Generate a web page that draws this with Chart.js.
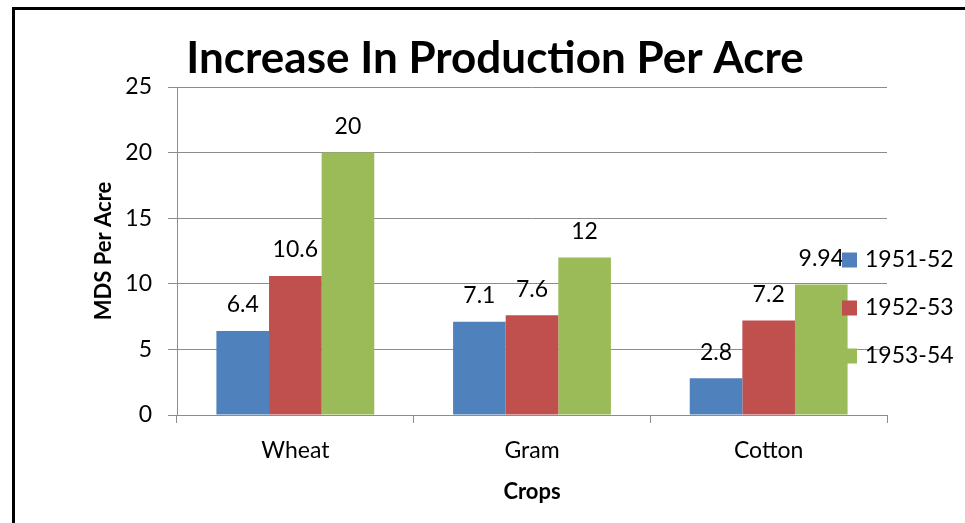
<!DOCTYPE html>
<html lang="en">
<head>
    <meta charset="UTF-8">
    <title>Increase In Production Per Acre</title>
    <script src="https://cdn.jsdelivr.net/npm/chart.js"></script>
    <style>
        html, body { margin: 0; padding: 0; background: #fff; }
        .frame {
            position: absolute;
            left: 12px;
            top: 7px;
            width: 960px;
            height: 520px;
            border-left: 3px solid #000;
            border-top: 3px solid #000;
        }
        .chart-wrapper {
            position: absolute;
            left: 0;
            top: 0;
            width: 965px;
            height: 523px;
        }
    </style>
</head>
<body>
    <div class="frame"></div>
    <div class="chart-wrapper">
        <canvas id="barChart"></canvas>
    </div>

    <script>
        // data
        const crops = ['Wheat', 'Gram', 'Cotton'];
        const seasons = ['1951-52', '1952-53', '1953-54'];
        const y1951 = [6.4, 7.1, 2.8];
        const y1952 = [10.6, 7.6, 7.2];
        const y1953 = [20, 12, 9.94];
        const yTicks = [0, 5, 10, 15, 20, 25];
        const chartTitle = 'Increase In Production Per Acre';

        const colors = ['#4F81BD', '#C0504D', '#9BBB59'];
        const fontFamily = 'Lato, "Open Sans", sans-serif';
        const gridGray = '#8c8c8c';

        // title drawn by hand so it can sit off-centre like the original
        const titleText = {
            id: 'titleText',
            afterDraw(chart) {
                const ctx = chart.ctx;
                ctx.save();
                ctx.font = 'bold 44px ' + fontFamily;
                ctx.fillStyle = '#000';
                ctx.textAlign = 'center';
                ctx.textBaseline = 'middle';
                ctx.fillText(chartTitle, 495, 59);
                ctx.restore();
            }
        };

        // value labels above each bar
        const valueLabels = {
            id: 'valueLabels',
            afterDatasetsDraw(chart) {
                const ctx = chart.ctx;
                ctx.save();
                ctx.font = '23px ' + fontFamily;
                ctx.fillStyle = '#000';
                ctx.textAlign = 'center';
                ctx.textBaseline = 'middle';
                chart.data.datasets.forEach((ds, i) => {
                    chart.getDatasetMeta(i).data.forEach((bar, j) => {
                        ctx.fillText(String(ds.data[j]), bar.x, bar.y - 26);
                    });
                });
                ctx.restore();
            }
        };

        // legend sitting over the right edge of the plot
        const overlayLegend = {
            id: 'overlayLegend',
            afterDraw(chart) {
                const ctx = chart.ctx;
                ctx.save();
                ctx.font = '23px ' + fontFamily;
                ctx.textBaseline = 'middle';
                ctx.textAlign = 'left';
                chart.data.datasets.forEach((ds, i) => {
                    const cy = 260 + i * 48;
                    ctx.fillStyle = ds.backgroundColor;
                    ctx.fillRect(842, cy - 7.5, 15, 15);
                    ctx.fillStyle = '#000';
                    ctx.fillText(ds.label, 865, cy);
                });
                ctx.restore();
            }
        };

        new Chart(document.getElementById('barChart'), {
            type: 'bar',
            data: {
                labels: crops,
                datasets: [
                    { label: seasons[0], data: y1951, backgroundColor: colors[0] },
                    { label: seasons[1], data: y1952, backgroundColor: colors[1] },
                    { label: seasons[2], data: y1953, backgroundColor: colors[2] }
                ]
            },
            options: {
                responsive: true,
                maintainAspectRatio: false,
                animation: false,
                categoryPercentage: 0.667,
                barPercentage: 1.0,
                layout: { padding: { left: 0, right: 78, top: 87, bottom: 0 } },
                plugins: {
                    legend: { display: false },
                    tooltip: { enabled: false },
                    title: { display: false }
                },
                scales: {
                    x: {
                        afterFit(scale) { scale.height = 108; },
                        grid: {
                            drawOnChartArea: false,
                            drawTicks: true,
                            tickLength: 8,
                            color: gridGray
                        },
                        border: { color: gridGray, width: 1 },
                        ticks: {
                            color: '#000',
                            padding: 14,
                            font: { family: fontFamily, size: 23 }
                        },
                        title: {
                            display: true,
                            text: 'Crops',
                            color: '#000',
                            font: { family: fontFamily, size: 22, weight: 'bold' },
                            padding: { top: 0, bottom: 18 }
                        }
                    },
                    y: {
                        min: 0,
                        max: 25,
                        afterFit(scale) { scale.width = 177; },
                        afterBuildTicks(scale) {
                            scale.ticks = yTicks.map(v => ({ value: v }));
                        },
                        grid: {
                            color: gridGray,
                            tickLength: 9,
                            drawTicks: true
                        },
                        border: { color: gridGray, width: 1 },
                        ticks: {
                            color: '#000',
                            padding: 16,
                            font: { family: fontFamily, size: 23 }
                        },
                        title: {
                            display: true,
                            text: 'MDS Per Acre',
                            color: '#000',
                            font: { family: fontFamily, size: 22, weight: 'bold' },
                            padding: { top: 91, bottom: 0 }
                        }
                    }
                }
            },
            plugins: [titleText, valueLabels, overlayLegend]
        });
    </script>
</body>
</html>
